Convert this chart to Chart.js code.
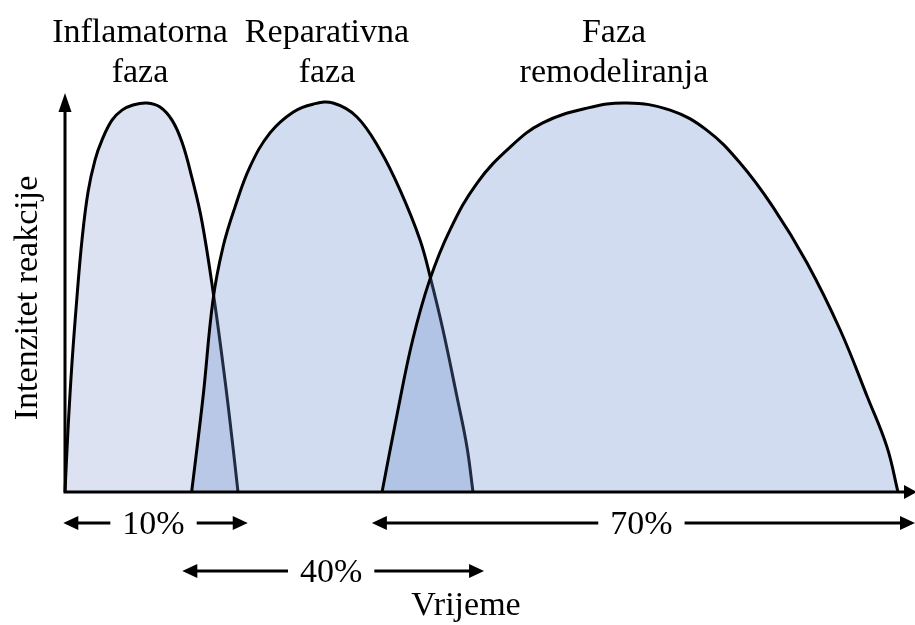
<!DOCTYPE html>
<html>
<head>
<meta charset="utf-8">
<title>Faze cijeljenja</title>
<script src="https://cdn.jsdelivr.net/npm/chart.js@4"></script>
<style>
  html, body { margin: 0; padding: 0; background: #fff; }
  #wrap { width: 915px; height: 625px; }
</style>
</head>
<body>
<div id="wrap"><canvas id="phaseChart" width="915" height="625"></canvas></div>
<script>
// ---------------------------
// Data (time units 0-100, intensity 0-100)
// ---------------------------
const inflamX = [0, 0.35, 0.82, 1.41, 2.0, 2.71, 3.53, 4.35, 5.53, 6.71, 8.0, 9.65, 11.18, 12.59, 13.76, 14.94, 16.12, 17.53, 18.82, 19.76, 20.35];
const inflamY = [0, 15.5, 32.3, 48.9, 63.2, 75.2, 83.2, 88.2, 93.2, 95.7, 97.0, 97.5, 96.5, 93.2, 87.7, 78.7, 67.7, 48.6, 28.1, 11.3, 0];

const reparX = [14.9, 16.24, 17.41, 18.59, 20.0, 21.76, 24.12, 26.82, 29.18, 31.53, 34.35, 37.06, 39.41, 41.76, 43.06, 44.47, 46.12, 47.29, 48.0];
const reparY = [0, 23.8, 48.1, 61.4, 71.4, 81.5, 90.0, 95.2, 97.2, 97.5, 94.0, 85.7, 75.7, 63.2, 53.1, 40.6, 23.8, 11.3, 0];

const remodX = [37.3, 39.1, 40.9, 42.9, 45.3, 48.5, 52.4, 56.2, 61.4, 66.1, 71.2, 75.5, 79.4, 83.3, 87.3, 91.2, 94.4, 96.7, 98];
const remodY = [0, 19.8, 38.1, 53.1, 65.7, 77.5, 86.5, 92.5, 96.2, 97.5, 95.7, 90.7, 82.5, 71.4, 57.4, 40.6, 23.8, 11.3, 0];

const phaseLabels = [['Inflamatorna', 'faza'], ['Reparativna', 'faza'], ['Faza', 'remodeliranja']];
const spanLabels = ['10%', '40%', '70%'];
const spanStart = [-0.2, 13.8, 36.1];
const spanEnd = [21.5, 49.3, 100];

const toPoints = (xs, ys) => xs.map((x, i) => ({ x: x, y: ys[i] }));

const FONT = '34px "Liberation Serif", "Times New Roman", serif';

function arrowHead(ctx, x, y, dir, len, half) {
    // dir: 'left' | 'right' | 'up'
    ctx.beginPath();
    if (dir === 'left') {
        ctx.moveTo(x, y); ctx.lineTo(x + len, y - half); ctx.lineTo(x + len, y + half);
    } else if (dir === 'right') {
        ctx.moveTo(x, y); ctx.lineTo(x - len, y - half); ctx.lineTo(x - len, y + half);
    } else {
        ctx.moveTo(x, y); ctx.lineTo(x - half, y + len); ctx.lineTo(x + half, y + len);
    }
    ctx.closePath();
    ctx.fill();
}

const decorPlugin = {
    id: 'decor',
    afterDraw(chart) {
        const ctx = chart.ctx;
        const area = chart.chartArea;
        const xs = chart.scales.x;
        ctx.save();
        ctx.fillStyle = '#000';
        ctx.strokeStyle = '#000';
        ctx.lineWidth = 3;

        // axes with arrows
        ctx.beginPath();
        ctx.moveTo(area.left, area.bottom);
        ctx.lineTo(area.left, area.top + 14);
        ctx.moveTo(area.left - 1.5, area.bottom);
        ctx.lineTo(area.right - 10, area.bottom);
        ctx.stroke();
        arrowHead(ctx, area.left, area.top, 'up', 19, 6.5);
        arrowHead(ctx, area.right + 2, area.bottom, 'right', 13, 7);

        // phase titles
        ctx.font = FONT;
        ctx.textAlign = 'center';
        ctx.textBaseline = 'alphabetic';
        const titleX = [140, 327, 614];
        phaseLabels.forEach((lines, i) => {
            lines.forEach((t, j) => ctx.fillText(t, titleX[i], 42 + j * 40));
        });

        // duration arrows below the axis
        const rowY = [area.bottom + 31, area.bottom + 79, area.bottom + 31];
        ctx.textBaseline = 'middle';
        spanLabels.forEach((lab, i) => {
            const x1 = xs.getPixelForValue(spanStart[i]);
            const x2 = xs.getPixelForValue(spanEnd[i]);
            const y = rowY[i];
            const mid = (x1 + x2) / 2 - 2;
            const half = ctx.measureText(lab).width / 2 + 12;
            ctx.beginPath();
            ctx.moveTo(x1 + 10, y); ctx.lineTo(mid - half, y);
            ctx.moveTo(mid + half, y); ctx.lineTo(x2 - 10, y);
            ctx.stroke();
            arrowHead(ctx, x1, y, 'left', 15, 7);
            arrowHead(ctx, x2, y, 'right', 15, 7);
            ctx.fillText(lab, mid, y + 2);
        });

        // axis titles
        ctx.fillText('Vrijeme', 466, 606);
        ctx.translate(28, 298);
        ctx.rotate(-Math.PI / 2);
        ctx.fillText('Intenzitet reakcije', 0, 0);
        ctx.restore();
    }
};

const common = {
    showLine: true,
    pointRadius: 0,
    borderColor: '#000',
    borderWidth: 3,
    fill: 'origin',
    tension: 0.4,
    clip: false
};

const ctx = document.getElementById('phaseChart').getContext('2d');
const phaseChart = new Chart(ctx, {
    type: 'scatter',
    data: {
        datasets: [
            Object.assign({ label: 'Inflamatorna faza', data: toPoints(inflamX, inflamY), backgroundColor: '#dce2f2', order: 3 }, common),
            Object.assign({ label: 'Reparativna faza', data: toPoints(reparX, reparY), backgroundColor: 'rgba(105,143,207,0.31)', order: 2 }, common),
            Object.assign({ label: 'Faza remodeliranja', data: toPoints(remodX, remodY), backgroundColor: 'rgba(105,143,207,0.31)', order: 1 }, common)
        ]
    },
    options: {
        responsive: false,
        animation: false,
        layout: { padding: { left: 65, right: 0, top: 93, bottom: 133 } },
        scales: {
            x: { type: 'linear', min: 0, max: 100, display: false },
            y: { min: 0, max: 100, display: false }
        },
        plugins: {
            legend: { display: false },
            tooltip: { enabled: false }
        }
    },
    plugins: [decorPlugin]
});
</script>
</body>
</html>
